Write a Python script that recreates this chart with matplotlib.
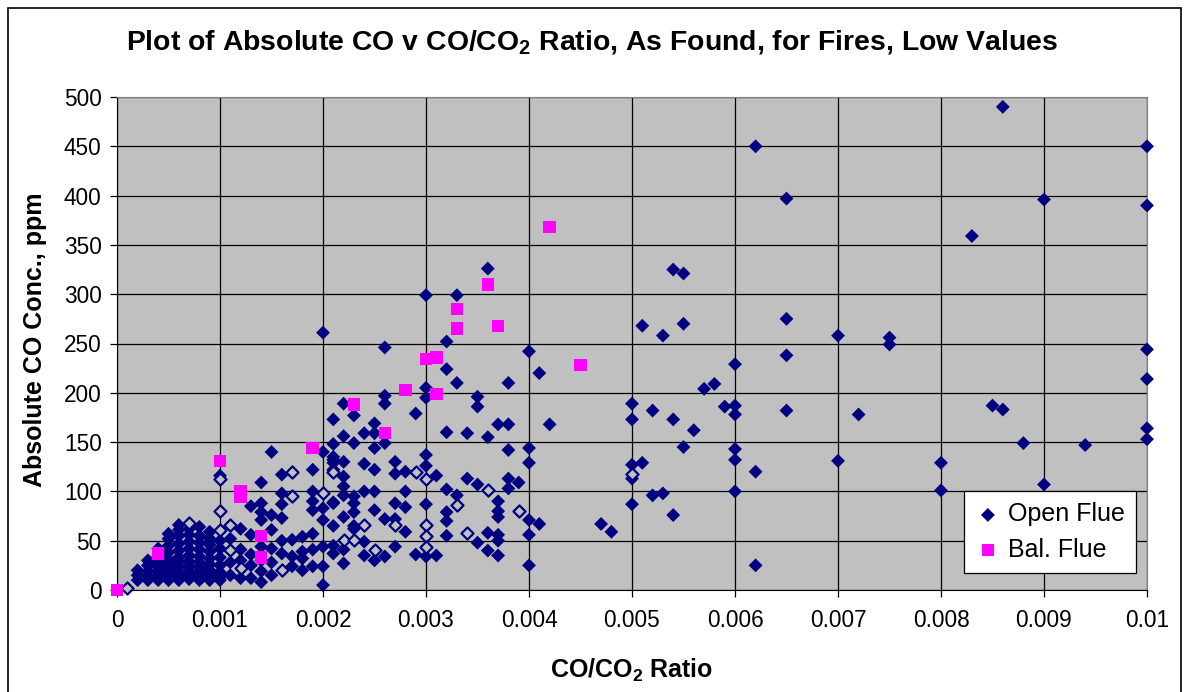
import matplotlib
matplotlib.use("Agg")
import matplotlib.pyplot as plt
from matplotlib.patches import Rectangle

plt.rcParams['font.family'] = ['Liberation Sans', 'DejaVu Sans']
plt.rcParams['mathtext.fontset'] = 'custom'
plt.rcParams['mathtext.rm'] = 'Liberation Sans'
plt.rcParams['mathtext.bf'] = 'Liberation Sans:bold'

title = r'Plot of Absolute CO v CO/CO$_\mathbf{2}$ Ratio, As Found, for Fires, Low Values'
x_label = r'CO/CO$_\mathbf{2}$ Ratio'
y_label = 'Absolute CO Conc., ppm'
series_names = ['Open Flue', 'Bal. Flue']

x_ticks = [0, 0.001, 0.002, 0.003, 0.004, 0.005, 0.006, 0.007, 0.008, 0.009, 0.01]
x_tick_labels = ['0', '0.001', '0.002', '0.003', '0.004', '0.005', '0.006', '0.007', '0.008', '0.009', '0.01']
y_ticks = [0, 50, 100, 150, 200, 250, 300, 350, 400, 450, 500]

# Open Flue readings (ratio, ppm)
open_flue = [
    # high ratio
    (0.0086, 490), (0.0062, 450), (0.0100, 450), (0.0065, 397), (0.0090, 396), (0.0100, 390),
    (0.0083, 359), (0.0054, 325), (0.0055, 321), (0.0065, 275), (0.0051, 268), (0.0053, 258),
    (0.0055, 270), (0.0070, 258), (0.0075, 256), (0.0075, 249), (0.0100, 244), (0.0065, 238),
    (0.0060, 229), (0.0057, 204), (0.0058, 209), (0.0100, 214), (0.0050, 189), (0.0052, 182),
    (0.0054, 173), (0.0050, 173), (0.0056, 162), (0.0055, 145), (0.0059, 186), (0.0060, 187),
    (0.0060, 178), (0.0065, 182), (0.0072, 178), (0.0085, 187), (0.0086, 183), (0.0100, 164),
    (0.0100, 153), (0.0088, 149), (0.0094, 147), (0.0060, 143), (0.0060, 132), (0.0070, 131),
    (0.0080, 129), (0.0050, 127), (0.0051, 129), (0.0050, 113), (0.0062, 120), (0.0090, 107),
    (0.0080, 101), (0.0060, 100), (0.0052, 96), (0.0053, 98), (0.0050, 87), (0.0054, 76),
    (0.0047, 67), (0.0048, 59), (0.0062, 25),
    # middle
    (0.0036, 326), (0.0033, 299), (0.0030, 299), (0.0032, 252), (0.0040, 242), (0.0032, 224),
    (0.0041, 220), (0.0033, 210), (0.0038, 210), (0.0035, 196), (0.0035, 186), (0.0032, 160),
    (0.0034, 159), (0.0036, 155), (0.0037, 168), (0.0038, 168), (0.0042, 168), (0.0038, 142),
    (0.0040, 144), (0.0040, 129), (0.0034, 113), (0.0035, 107), (0.0038, 113), (0.0038, 103),
    (0.0039, 109), (0.0032, 102), (0.0033, 96), (0.0032, 79), (0.0032, 70), (0.0032, 55),
    (0.0037, 90), (0.0037, 80), (0.0037, 74), (0.0040, 71), (0.0041, 67), (0.0040, 56),
    (0.0035, 48), (0.0036, 58), (0.0037, 56), (0.0037, 50), (0.0036, 40), (0.0037, 35),
    (0.0040, 25), (0.0031, 116), (0.0031, 35),
    # 0.002 - 0.003
    (0.0020, 261), (0.0026, 246), (0.0030, 205), (0.0030, 195), (0.0026, 197), (0.0026, 189),
    (0.0022, 189), (0.0023, 177), (0.0021, 173), (0.0029, 179), (0.0025, 169), (0.0025, 159),
    (0.0024, 159), (0.0022, 156), (0.0023, 149), (0.0021, 148), (0.0025, 144), (0.0026, 149),
    (0.0030, 137), (0.0030, 126), (0.0021, 135), (0.0021, 129), (0.0022, 130), (0.0024, 128),
    (0.0025, 122), (0.0027, 130), (0.0027, 118), (0.0028, 120), (0.0022, 115), (0.0022, 105),
    (0.0022, 96), (0.0024, 100), (0.0025, 100), (0.0028, 100), (0.0021, 88), (0.0023, 95),
    (0.0023, 88), (0.0023, 79), (0.0025, 81), (0.0022, 74), (0.0027, 88), (0.0028, 84),
    (0.0027, 72), (0.0026, 72), (0.0030, 87), (0.0021, 65), (0.0023, 65), (0.0028, 59),
    (0.0029, 36), (0.0030, 34), (0.0024, 49), (0.0021, 45), (0.0021, 37), (0.0022, 41),
    (0.0025, 30), (0.0026, 34), (0.0024, 35), (0.0022, 27), (0.0027, 44), (0.0023, 62),
    (0.0020, 140), (0.0021, 132), (0.0021, 122), (0.0020, 83), (0.0020, 71), (0.0021, 89),
    (0.0020, 44), (0.0020, 24), (0.0020, 5),
    # 0.001 - 0.002
    (0.0015, 140), (0.0016, 117), (0.0014, 109), (0.0019, 122), (0.0016, 98), (0.0013, 85),
    (0.0014, 88), (0.0014, 79), (0.0014, 71), (0.0015, 76), (0.0016, 87), (0.0016, 73),
    (0.0019, 100), (0.0019, 90), (0.0019, 81), (0.0012, 62), (0.0013, 56), (0.0015, 61),
    (0.0017, 51), (0.0018, 54), (0.0019, 57), (0.0012, 41), (0.0013, 36), (0.0014, 44),
    (0.0015, 42), (0.0016, 37), (0.0017, 34), (0.0018, 39), (0.0019, 41), (0.0014, 19),
    (0.0011, 15), (0.0010, 10), (0.0017, 24), (0.0018, 32), (0.0019, 24), (0.0012, 97),
    (0.0011, 28), (0.0012, 30), (0.0013, 25), (0.0014, 30), (0.0015, 28), (0.0016, 50),
    (0.0015, 15), (0.0013, 12), (0.0012, 12), (0.0011, 52), (0.0018, 20), (0.0014, 8),
    # dense cluster below 0.001
    (0.0002, 10), (0.0002, 15), (0.0002, 20),
    (0.0003, 10), (0.0003, 14), (0.0003, 19), (0.0003, 25), (0.0003, 30),
    (0.0004, 10), (0.0004, 14), (0.0004, 18), (0.0004, 23), (0.0004, 28), (0.0004, 34), (0.0004, 42),
    (0.0005, 10), (0.0005, 13), (0.0005, 17), (0.0005, 21), (0.0005, 26), (0.0005, 31), (0.0005, 38),
    (0.0005, 45), (0.0005, 52), (0.0005, 57),
    (0.0006, 10), (0.0006, 14), (0.0006, 18), (0.0006, 23), (0.0006, 28), (0.0006, 33), (0.0006, 40),
    (0.0006, 47), (0.0006, 55), (0.0006, 61), (0.0006, 66),
    (0.0007, 11), (0.0007, 15), (0.0007, 19), (0.0007, 24), (0.0007, 29), (0.0007, 35), (0.0007, 42),
    (0.0007, 49), (0.0007, 56), (0.0007, 62),
    (0.0008, 10), (0.0008, 14), (0.0008, 18), (0.0008, 23), (0.0008, 28), (0.0008, 34), (0.0008, 41),
    (0.0008, 48), (0.0008, 55), (0.0008, 64),
    (0.0009, 10), (0.0009, 15), (0.0009, 20), (0.0009, 26), (0.0009, 32), (0.0009, 39), (0.0009, 46),
    (0.0009, 52), (0.0009, 59),
    (0.0010, 13), (0.0010, 18), (0.0010, 25), (0.0010, 33), (0.0010, 42), (0.0010, 50),
    (0.0010, 116),
]

# Open Flue readings that appear as outlined diamonds
open_flue_outlined = [
    (0.0001, 2), (0.0007, 68), (0.0010, 61), (0.0010, 80), (0.0010, 113), (0.0011, 66), (0.0011, 41),
    (0.0012, 22), (0.0016, 20), (0.0017, 120), (0.0017, 95), (0.0020, 98), (0.0021, 120),
    (0.0022, 51), (0.0023, 51), (0.0024, 66), (0.0025, 41), (0.0027, 66), (0.0029, 120),
    (0.0030, 113), (0.0030, 66), (0.0030, 55), (0.0030, 44), (0.0033, 86), (0.0034, 58),
    (0.0036, 101), (0.0039, 80), (0.0050, 118),
]

# Balanced Flue readings
bal_flue = [
    (0.0000, 0), (0.0004, 37), (0.0010, 131), (0.0012, 100), (0.0012, 95), (0.0014, 55),
    (0.0014, 33), (0.0019, 144), (0.0023, 188), (0.0026, 159), (0.0028, 203), (0.0030, 234),
    (0.0031, 236), (0.0031, 199), (0.0033, 285), (0.0033, 265), (0.0036, 310), (0.0037, 268),
    (0.0042, 368), (0.0045, 228),
]

navy = '#000080'
magenta = '#FF00FF'
plot_bg = '#C0C0C0'

W, H = 1188, 692
fig = plt.figure(figsize=(W / 100, H / 100), dpi=100)
ax = fig.add_axes([117 / W, 1 - 590 / H, (1147 - 117) / W, (590 - 97) / H])
ax.set_facecolor(plot_bg)

ox = [p[0] for p in open_flue]
oy = [p[1] for p in open_flue]
hx = [p[0] for p in open_flue_outlined]
hy = [p[1] for p in open_flue_outlined]
bx = [p[0] for p in bal_flue]
by = [p[1] for p in bal_flue]

ax.scatter(ox, oy, marker='D', s=50, color=navy, edgecolors='none', clip_on=False, zorder=3,
           label=series_names[0])
ax.scatter(hx, hy, marker='D', s=38, facecolors=plot_bg, edgecolors=navy, linewidths=1.6,
           clip_on=False, zorder=3)
ax.scatter(bx, by, marker='s', s=80, color=magenta, edgecolors='none', clip_on=False, zorder=4,
           label=series_names[1])

ax.set_xlim(0, 0.01)
ax.set_ylim(0, 500)
ax.set_xticks(x_ticks)
ax.set_xticklabels(x_tick_labels)
ax.set_yticks(y_ticks)
ax.grid(True, color='black', linewidth=0.9)
ax.set_axisbelow(True)
ax.tick_params(axis='both', labelsize=16.3, length=5, width=0.9, color='black', direction='out')
ax.tick_params(axis='x', pad=9)
ax.tick_params(axis='y', pad=6)
for side in ['left', 'bottom']:
    ax.spines[side].set_color('black')
for side in ['top', 'right']:
    ax.spines[side].set_color('#808080')

fig.text(632 / W, 1 - 670 / H, x_label, ha='center', va='center', fontsize=18, fontweight='bold')
fig.text(35 / W, 1 - 340 / H, y_label, ha='center', va='center', rotation=90, fontsize=18,
         fontweight='bold')
fig.text(592 / W, 1 - 43 / H, title, ha='center', va='center', fontsize=20.4, fontweight='bold')

leg = ax.legend(loc='lower right', bbox_to_anchor=(1136 / W, 1 - 573 / H), bbox_transform=fig.transFigure,
                fontsize=18, frameon=True, fancybox=False, edgecolor='black', framealpha=1,
                handletextpad=0.3, borderpad=0.45, labelspacing=0.45, handlelength=1.0,
                borderaxespad=0, scatterpoints=1)
leg.get_frame().set_linewidth(0.9)

fig.patches.append(Rectangle((8 / W, -0.05), (1181 - 8) / W, 1 + 0.05 - 8 / H, transform=fig.transFigure,
                             fill=False, edgecolor='black', linewidth=1.2))

fig.savefig('out.png', dpi=100)
